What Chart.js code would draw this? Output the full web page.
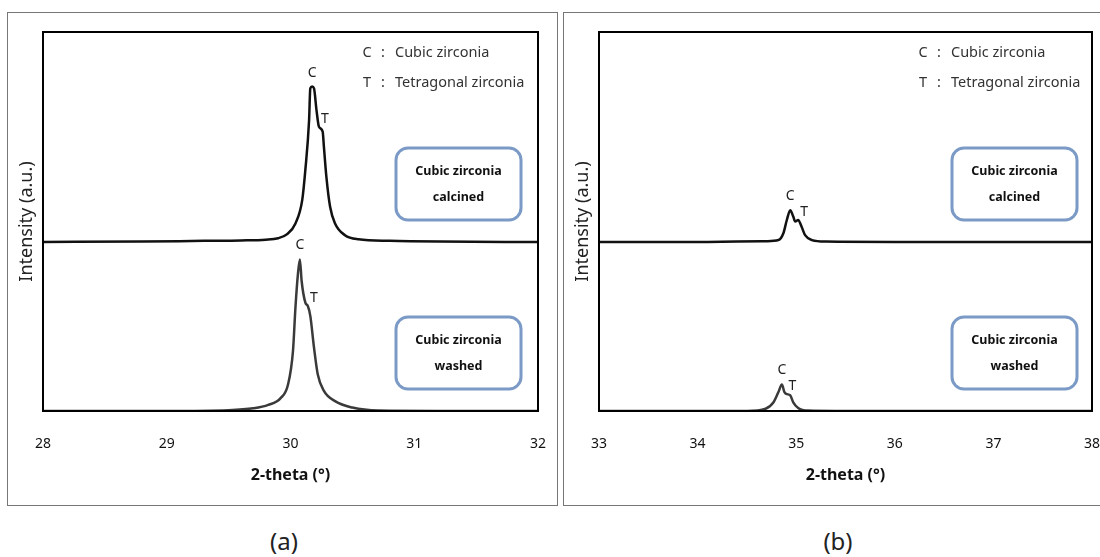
<!DOCTYPE html>
<html>
<head>
<meta charset="utf-8">
<script src="https://cdn.jsdelivr.net/npm/chart.js@4"></script>
<style>
    body { margin: 0; background: #fff; width: 1100px; height: 557px; overflow: hidden; position: relative; font-family: 'Noto Sans', sans-serif; }
    .panel { position: absolute; top: 12px; height: 494px; border: 1px solid #777; box-sizing: border-box; }
    #panel-a { left: 7px; width: 551px; }
    #panel-b { left: 563px; width: 545px; }
    .panel .inner { position: absolute; left: 0; top: 0; right: 0; bottom: 0; }
    .caption { position: absolute; top: 524px; font-size: 24px; color: #222; width: 60px; text-align: center; }
</style>
</head>
<body>

<div class="panel" id="panel-a"><div class="inner"><canvas id="grafica-a"></canvas></div></div>
<div class="panel" id="panel-b"><div class="inner"><canvas id="grafica-b"></canvas></div></div>
<div class="caption" style="left:254px">(a)</div>
<div class="caption" style="left:808px">(b)</div>

<script>
// (a) 2-theta 28-32
const thetaCalcinadaA = [28, 28.8, 29.3, 29.6, 29.8, 29.9, 29.97, 30.04, 30.095, 30.12, 30.15, 30.16, 30.175, 30.19, 30.21, 30.23, 30.26, 30.27, 30.29, 30.32, 30.36, 30.44, 30.55, 30.8, 31.2, 32];
const intensidadCalcinadaA = [0, 0.1, 0.3, 0.4, 0.6, 1.0, 2.0, 4.9, 11.1, 19, 32, 40.5, 41, 40.5, 34.8, 30.4, 29.1, 25.1, 17.2, 9.3, 4.9, 1.8, 0.7, 0.3, 0.1, 0];
const thetaLavadaA = [28, 29.0, 29.5, 29.7, 29.82, 29.92, 29.98, 30.02, 30.04, 30.06, 30.076, 30.09, 30.12, 30.14, 30.16, 30.19, 30.22, 30.27, 30.36, 30.5, 30.71, 31.2, 32];
const intensidadLavadaA = [0, 0, 0.2, 0.7, 1.6, 3.4, 7.0, 15.8, 27.3, 36.1, 40.0, 34.3, 28.6, 27.7, 25.1, 16.7, 9.7, 5.3, 2.6, 0.9, 0.1, 0, 0];

// (b) 2-theta 33-38
const thetaCalcinadaB = [33, 34.0, 34.4, 34.7, 34.82, 34.87, 34.905, 34.94, 34.97, 34.99, 35.02, 35.055, 35.09, 35.16, 35.3, 36, 37, 38];
const intensidadCalcinadaB = [0, 0, 0.1, 0.2, 0.5, 2.3, 5.8, 8.4, 6.7, 5.4, 5.8, 4.0, 1.8, 0.5, 0.1, 0, 0, 0];
const thetaLavadaB = [33, 34.0, 34.5, 34.69, 34.77, 34.82, 34.855, 34.88, 34.90, 34.94, 34.97, 35.02, 35.12, 35.4, 36, 37, 38];
const intensidadLavadaB = [0, 0, 0, 0.6, 2.3, 5.0, 7.0, 5.0, 4.5, 4.1, 2.3, 0.8, 0.1, 0, 0, 0, 0];

// hombro tetragonal (T) de cada patron
const hombroA = [30.23, 30.14];
const hombroB = [35.02, 34.90];

const ticksA = [28, 29, 30, 31, 32];
const ticksB = [33, 34, 35, 36, 37, 38];

const desplazamiento = 44.6; // el patron calcinado va encima
const fuente = "'Noto Sans', sans-serif";

function puntos(xs, ys, offset) {
    return xs.map((x, i) => ({ x: x, y: ys[i] + offset }));
}

// marco del area de la grafica + textos
const anotaciones = {
    id: 'anotaciones',
    afterDatasetsDraw(chart, args, opts) {
        const { ctx, chartArea: area, scales: { x, y } } = chart;
        ctx.save();
        ctx.strokeStyle = '#000';
        ctx.lineWidth = 2;
        ctx.strokeRect(area.left, area.top, area.right - area.left, area.bottom - area.top);

        // leyenda C / T
        ctx.fillStyle = '#333';
        ctx.font = '14.5px ' + fuente;
        ctx.textBaseline = 'middle';
        [['C', 'Cubic zirconia', 21], ['T', 'Tetragonal zirconia', 51]].forEach(([letra, texto, dy]) => {
            ctx.textAlign = 'center';
            ctx.fillText(letra, area.left + 324, area.top + dy);
            ctx.fillText(':', area.left + 340, area.top + dy);
            ctx.textAlign = 'left';
            ctx.fillText(texto, area.left + 352, area.top + dy);
        });

        // cajas
        [['calcined', 116], ['washed', 285]].forEach(([nombre, dy]) => {
            const bx = area.left + 353, by = area.top + dy, w = 125, h = 72;
            ctx.strokeStyle = '#7b9ac6';
            ctx.lineWidth = 3;
            ctx.beginPath();
            ctx.roundRect(bx, by, w, h, 12);
            ctx.stroke();
            ctx.fillStyle = '#111';
            ctx.font = 'bold 12.5px ' + fuente;
            ctx.textAlign = 'center';
            ctx.fillText('Cubic zirconia', bx + w / 2, by + 23);
            ctx.fillText(nombre, bx + w / 2, by + 49);
        });

        // etiquetas C y T sobre los picos
        ctx.fillStyle = '#222';
        ctx.font = '14px ' + fuente;
        ctx.textAlign = 'center';
        chart.data.datasets.forEach((ds, i) => {
            const pico = ds.data.reduce((a, b) => (b.y > a.y ? b : a));
            ctx.fillText('C', x.getPixelForValue(pico.x), y.getPixelForValue(pico.y) - 14);
            const t = ds.data.find(p => p.x === opts.hombros[i]);
            ctx.fillText('T', x.getPixelForValue(t.x) + 6, y.getPixelForValue(t.y) - 8);
        });
        ctx.restore();
    }
};

function crearGrafica(id, calc, lav, min, max, ticks, hombros, padRight) {
    const ctx = document.getElementById(id);
    return new Chart(ctx, {
        type: 'line',
        data: {
            datasets: [
                {
                    data: puntos(calc[0], calc[1], desplazamiento),
                    borderColor: '#111',
                    borderWidth: 2.5
                },
                {
                    data: puntos(lav[0], lav[1], 0),
                    borderColor: '#3a3a3a',
                    borderWidth: 2.5
                }
            ]
        },
        options: {
            responsive: true,
            maintainAspectRatio: false,
            animation: false,
            cubicInterpolationMode: 'monotone',
            elements: { point: { radius: 0 } },
            layout: { padding: { left: 0, top: 19, right: padRight, bottom: 0 } },
            scales: {
                x: {
                    type: 'linear',
                    min: min,
                    max: max,
                    afterBuildTicks: scale => { scale.ticks = ticks.map(v => ({ value: v })); },
                    afterFit: scale => {
                        scale.height = 94;
                        scale.paddingLeft = 0;
                        scale.paddingRight = 0;
                    },
                    grid: { display: false },
                    border: { display: false },
                    ticks: { color: '#111', font: { family: fuente, size: 14 }, padding: 17, maxRotation: 0 },
                    title: {
                        display: true,
                        text: '2-theta (°)',
                        color: '#111',
                        font: { family: fuente, size: 16, weight: 'bold' },
                        padding: { top: 0, bottom: 20 }
                    }
                },
                y: {
                    min: 0,
                    max: 100,
                    afterFit: scale => { scale.width = 35; },
                    grid: { display: false },
                    border: { display: false },
                    ticks: { display: false },
                    title: {
                        display: true,
                        text: 'Intensity (a.u.)',
                        color: '#222',
                        font: { family: fuente, size: 18 },
                        padding: { top: 8, bottom: 0 }
                    }
                }
            },
            plugins: {
                legend: { display: false },
                tooltip: { enabled: false },
                anotaciones: { hombros: hombros }
            }
        },
        plugins: [anotaciones]
    });
}

crearGrafica('grafica-a', [thetaCalcinadaA, intensidadCalcinadaA], [thetaLavadaA, intensidadLavadaA], 28, 32, ticksA, hombroA, 19);
crearGrafica('grafica-b', [thetaCalcinadaB, intensidadCalcinadaB], [thetaLavadaB, intensidadLavadaB], 33, 38, ticksB, hombroB, 15);
</script>
</body>
</html>
